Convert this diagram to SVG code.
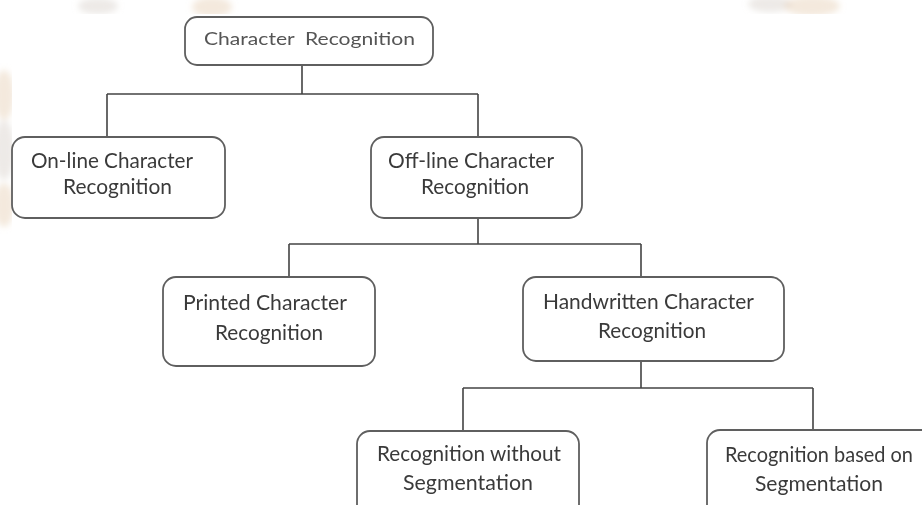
<svg xmlns="http://www.w3.org/2000/svg" width="922" height="505" viewBox="0 0 922 505">
  <style>
    .box { fill: #ffffff; stroke: #5f5f5f; stroke-width: 1.8; }
    .lbl { font-family: Lato, "Open Sans", "Liberation Sans", sans-serif; font-size: 21px; fill: #3a3a3a; }
    .top { font-size: 17.5px; fill: #555555; }
    .conn { stroke: #444444; stroke-width: 1.6; fill: none; }
    .tex { fill: #e9d3bc; opacity: 0.5; }
    .tex2 { fill: #dcd6d0; opacity: 0.5; }
  </style>
  <defs>
    <filter id="blur" x="-50%" y="-50%" width="200%" height="200%">
      <feGaussianBlur stdDeviation="3"/>
    </filter>
    <clipPath id="texclip">
      <rect x="0" y="0" width="922" height="14"/>
      <rect x="0" y="0" width="12" height="240"/>
    </clipPath>
  </defs>
  <rect x="0" y="0" width="922" height="505" fill="#ffffff"/>
  <g id="background-texture" clip-path="url(#texclip)" filter="url(#blur)">
    <ellipse class="tex2" cx="98" cy="6" rx="20" ry="8"/>
    <ellipse class="tex" cx="212" cy="7" rx="20" ry="10"/>
    <ellipse class="tex2" cx="770" cy="4" rx="22" ry="8"/>
    <ellipse class="tex" cx="812" cy="6" rx="28" ry="10"/>
    <ellipse class="tex" cx="4" cy="95" rx="10" ry="25"/>
    <ellipse class="tex2" cx="4" cy="150" rx="10" ry="30"/>
    <ellipse class="tex" cx="4" cy="205" rx="10" ry="22"/>
  </g>

  <g id="connectors">
    <path class="conn" d="M302,65 V94 M107,94 H478 M107,94 V137 M478,94 V137"/>
    <path class="conn" d="M478,218 V244 M289,244 H641 M289,244 V277 M641,244 V277"/>
    <path class="conn" d="M641,361 V388 M463,388 H813 M463,388 V431 M813,388 V430"/>
  </g>

  <g id="character-recognition">
    <rect class="box" x="185" y="17" width="248" height="48" rx="12"/>
    <text class="lbl top" x="204" y="45" textLength="211" lengthAdjust="spacingAndGlyphs" xml:space="preserve">Character  Recognition</text>
  </g>

  <g id="online-recognition">
    <rect class="box" x="12" y="137" width="213" height="81" rx="13"/>
    <text class="lbl" x="31" y="168" textLength="162" lengthAdjust="spacingAndGlyphs">On-line Character</text>
    <text class="lbl" x="63" y="194" textLength="109" lengthAdjust="spacingAndGlyphs">Recognition</text>
  </g>

  <g id="offline-recognition">
    <rect class="box" x="371" y="137" width="211" height="81" rx="13"/>
    <text class="lbl" x="388" y="168" textLength="166" lengthAdjust="spacingAndGlyphs">Off-line Character</text>
    <text class="lbl" x="421" y="194" textLength="108" lengthAdjust="spacingAndGlyphs">Recognition</text>
  </g>

  <g id="printed-recognition">
    <rect class="box" x="163" y="277" width="212" height="89" rx="13"/>
    <text class="lbl" x="183" y="310" textLength="164" lengthAdjust="spacingAndGlyphs">Printed Character</text>
    <text class="lbl" x="215" y="340" textLength="108" lengthAdjust="spacingAndGlyphs">Recognition</text>
  </g>

  <g id="handwritten-recognition">
    <rect class="box" x="523" y="277" width="261" height="84" rx="13"/>
    <text class="lbl" x="543" y="309" textLength="211" lengthAdjust="spacingAndGlyphs">Handwritten Character</text>
    <text class="lbl" x="598" y="338" textLength="108" lengthAdjust="spacingAndGlyphs">Recognition</text>
  </g>

  <g id="recognition-without-segmentation">
    <rect class="box" x="357" y="431" width="222" height="100" rx="13"/>
    <text class="lbl" x="377" y="461" textLength="184" lengthAdjust="spacingAndGlyphs">Recognition without</text>
    <text class="lbl" x="403" y="490" textLength="130" lengthAdjust="spacingAndGlyphs">Segmentation</text>
  </g>

  <g id="recognition-based-on-segmentation">
    <rect class="box" x="707" y="430" width="228" height="100" rx="13"/>
    <text class="lbl" x="725" y="462" textLength="188" lengthAdjust="spacingAndGlyphs">Recognition based on</text>
    <text class="lbl" x="755" y="491" textLength="128" lengthAdjust="spacingAndGlyphs">Segmentation</text>
  </g>
</svg>
